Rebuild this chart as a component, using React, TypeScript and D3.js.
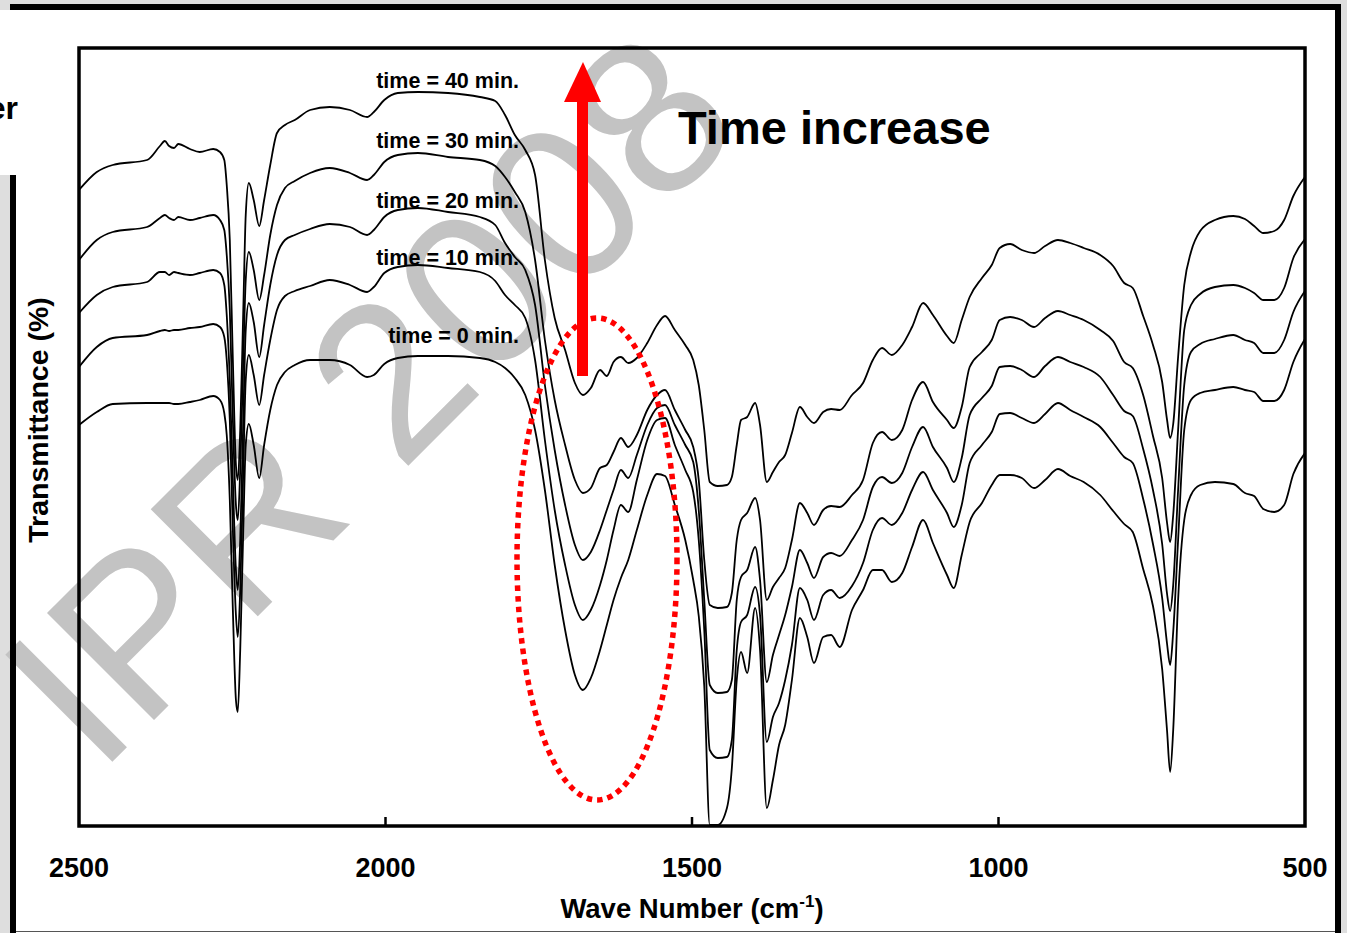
import React from 'react';
import * as d3 from 'd3';

// Wavenumber grid (cm-1), shared by all five spectra
const WAVENUMBER = [
  2500, 2471, 2445, 2389, 2368, 2360, 2353, 2345, 2338, 2319,
  2303, 2281, 2270, 2263, 2259, 2254, 2249, 2244, 2241, 2237,
  2232, 2228, 2223, 2215, 2206, 2198, 2188, 2177, 2164, 2148,
  2123, 2091, 2058, 2030, 2019, 2002, 1980, 1947, 1898, 1846,
  1821, 1805, 1789, 1772, 1756, 1740, 1724, 1707, 1691, 1678,
  1665, 1650, 1639, 1628, 1616, 1604, 1590, 1573, 1557, 1544,
  1528, 1511, 1498, 1489, 1480, 1471, 1458, 1443, 1435, 1427,
  1420, 1410, 1397, 1389, 1378, 1368, 1358, 1348, 1337, 1324,
  1312, 1301, 1286, 1273, 1259, 1239, 1221, 1205, 1190, 1174,
  1157, 1141, 1123, 1107, 1084, 1073, 1060, 1047, 1027, 1011,
  998, 981, 962, 942, 924, 903, 883, 861, 834, 813,
  795, 781, 764, 748, 733, 725, 720, 715, 707, 697,
  686, 671, 647, 617, 598, 583, 568, 550, 534, 519,
  500,
];

// Transmittance (arbitrary offset scale, %)
const T40 = [
  63.6, 65.4, 66.1, 66.6, 68.0, 68.5, 68.0, 67.8, 68.2, 67.7,
  67.4, 67.7, 67.4, 66.6, 64.1, 58.6, 46.6, 36.1, 34.6, 39.6,
  51.6, 61.1, 64.3, 62.6, 60.0, 62.6, 66.1, 69.3, 70.1, 70.6,
  71.6, 71.9, 71.6, 70.9, 71.4, 72.6, 73.3, 73.4, 73.3, 72.9,
  72.5, 71.1, 69.1, 67.6, 65.1, 56.6, 50.8, 47.6, 44.3, 43.1,
  43.8, 45.6, 45.0, 46.4, 46.9, 46.3, 46.8, 48.3, 50.1, 51.0,
  49.6, 48.1, 46.6, 44.1, 39.6, 34.4, 34.0, 34.1, 34.9, 38.1,
  40.6, 40.9, 42.3, 40.1, 34.4, 35.4, 36.4, 37.1, 39.3, 41.9,
  40.9, 40.3, 41.4, 41.7, 41.6, 43.1, 44.3, 46.6, 47.8, 47.1,
  48.1, 49.9, 52.3, 51.1, 49.0, 48.3, 50.6, 52.9, 54.8, 56.1,
  57.8, 58.2, 57.6, 57.3, 58.0, 58.6, 58.3, 57.8, 57.1, 56.0,
  54.3, 53.8, 51.0, 48.1, 44.4, 40.6, 38.8, 40.2, 46.9, 54.1,
  57.4, 59.5, 60.6, 61.0, 60.7, 60.0, 59.3, 59.5, 60.6, 63.0,
  64.9,
];
const T30 = [
  56.6, 58.6, 59.4, 59.9, 60.8, 61.1, 60.8, 60.6, 60.9, 60.6,
  60.8, 61.1, 60.6, 59.6, 57.1, 51.6, 40.6, 32.1, 30.6, 35.6,
  46.6, 54.6, 57.4, 55.6, 52.6, 55.1, 59.1, 62.1, 63.8, 64.5,
  65.3, 65.8, 65.3, 64.6, 65.1, 66.4, 67.1, 67.3, 66.9, 66.6,
  66.0, 64.9, 63.4, 61.4, 56.6, 48.6, 42.6, 38.1, 34.6, 33.3,
  33.8, 35.8, 36.1, 37.4, 38.8, 37.9, 39.1, 41.6, 43.1, 43.6,
  41.6, 39.6, 37.9, 34.6, 26.6, 22.1, 21.8, 21.9, 23.3, 28.6,
  30.6, 31.3, 32.8, 30.6, 22.6, 23.9, 24.8, 25.8, 28.6, 32.3,
  31.3, 30.1, 31.6, 32.0, 31.9, 33.1, 34.6, 38.3, 39.4, 38.6,
  39.6, 42.6, 44.4, 42.4, 40.6, 39.8, 41.9, 45.9, 47.4, 48.6,
  50.6, 50.9, 50.6, 49.9, 50.8, 51.5, 51.1, 50.6, 49.6, 48.5,
  46.4, 45.8, 43.1, 39.0, 34.8, 30.3, 28.4, 31.1, 39.6, 49.6,
  52.1, 53.2, 53.9, 54.1, 53.8, 53.3, 52.6, 52.6, 53.8, 56.8,
  58.7,
];
const T20 = [
  51.3, 53.1, 53.9, 54.4, 55.4, 55.4, 55.1, 55.4, 55.3, 55.1,
  55.3, 55.6, 55.3, 54.1, 51.1, 44.6, 34.6, 25.6, 23.6, 28.6,
  40.6, 49.6, 52.3, 50.4, 46.9, 50.1, 54.1, 57.1, 58.6, 59.1,
  59.7, 60.2, 59.9, 59.1, 59.6, 60.9, 61.6, 61.8, 61.4, 60.9,
  60.1, 58.3, 56.9, 55.6, 52.1, 44.1, 37.6, 32.1, 28.1, 26.6,
  27.4, 29.6, 31.6, 33.6, 35.6, 34.8, 37.1, 40.1, 41.8, 42.1,
  40.1, 38.1, 36.4, 31.6, 22.6, 14.1, 13.3, 13.4, 14.6, 22.6,
  24.9, 25.6, 27.9, 24.6, 14.4, 17.1, 19.1, 21.1, 23.9, 27.6,
  26.3, 24.8, 26.9, 27.3, 27.0, 28.6, 30.6, 33.9, 34.9, 34.3,
  35.3, 37.9, 39.9, 37.9, 35.8, 34.4, 36.8, 41.1, 42.8, 44.0,
  45.9, 46.0, 45.6, 44.9, 46.0, 46.9, 46.4, 45.9, 44.9, 43.1,
  41.5, 41.0, 37.7, 33.6, 28.2, 23.2, 21.5, 24.1, 33.6, 44.1,
  47.4, 48.2, 48.7, 49.1, 48.6, 48.3, 47.3, 47.3, 48.6, 51.4,
  53.5,
];
const T10 = [
  45.9, 47.9, 48.8, 49.1, 49.5, 49.6, 49.5, 49.6, 49.6, 49.8,
  49.9, 50.2, 49.9, 48.9, 46.6, 40.6, 29.6, 21.1, 18.9, 23.6,
  35.6, 44.6, 47.1, 45.1, 42.1, 45.1, 48.6, 51.6, 53.0, 53.5,
  54.0, 54.6, 54.1, 53.4, 53.9, 55.3, 55.9, 56.1, 55.8, 55.4,
  54.5, 53.1, 52.1, 50.8, 46.6, 38.6, 31.6, 26.1, 22.1, 20.6,
  21.6, 24.1, 26.6, 29.6, 32.1, 31.4, 34.6, 38.6, 40.6, 40.8,
  38.1, 35.6, 33.4, 28.6, 19.6, 7.6, 6.8, 6.9, 8.6, 17.6,
  20.4, 21.1, 23.9, 21.1, 8.4, 10.9, 12.3, 14.6, 18.1, 23.8,
  22.6, 20.6, 23.1, 23.6, 22.8, 24.0, 26.3, 29.6, 30.8, 30.1,
  31.3, 33.6, 35.4, 33.6, 31.3, 29.9, 32.1, 36.3, 38.1, 39.4,
  41.2, 41.3, 40.8, 40.3, 41.2, 42.3, 41.6, 40.9, 39.9, 38.3,
  36.9, 36.3, 32.7, 28.2, 22.8, 18.2, 16.1, 19.4, 28.6, 39.6,
  42.6, 43.3, 43.6, 43.9, 43.6, 43.4, 42.5, 42.5, 43.6, 46.4,
  48.7,
];
const T0 = [
  40.1, 41.4, 42.2, 42.3, 42.3, 42.3, 42.3, 42.2, 42.2, 42.4,
  42.6, 43.0, 42.6, 41.3, 39.1, 32.6, 21.6, 12.6, 11.4, 17.6,
  29.6, 38.1, 40.2, 38.1, 34.8, 38.1, 41.6, 44.1, 45.4, 46.1,
  46.6, 46.6, 46.1, 44.9, 45.1, 46.2, 46.8, 47.0, 47.0, 46.8,
  46.4, 45.8, 44.8, 43.1, 39.6, 33.6, 26.1, 19.6, 15.1, 13.6,
  14.8, 17.6, 20.1, 22.6, 24.8, 26.6, 29.6, 33.1, 35.2, 35.0,
  32.1, 28.6, 24.6, 21.0, 14.0, 0.1, 0.1, 1.8, 5.8, 14.6,
  17.4, 15.3, 21.8, 17.6, 1.8, 4.6, 8.1, 10.1, 14.6, 20.8,
  18.9, 16.3, 18.9, 19.1, 17.9, 21.6, 23.6, 25.6, 25.6, 24.4,
  25.3, 27.9, 30.6, 28.3, 25.1, 23.8, 27.1, 30.4, 32.3, 34.1,
  35.1, 35.1, 34.8, 33.8, 34.6, 35.7, 35.0, 34.4, 33.1, 31.5,
  30.2, 29.4, 25.7, 22.0, 15.7, 9.5, 5.4, 9.6, 22.6, 30.6,
  33.1, 34.1, 34.4, 34.2, 33.3, 33.0, 31.7, 31.4, 32.1, 35.2,
  37.3,
];

const SERIES_LABELS = ['time = 40 min.', 'time = 30 min.', 'time = 20 min.', 'time = 10 min.', 'time = 0 min.'];
const SERIES_VALUES = [T40, T30, T20, T10, T0];
const X_TICKS = [2500, 2000, 1500, 1000, 500];

const W = 1347;
const H = 933;
const PL = 79, PR = 1305, PT = 48, PB = 826;
const FONT = "Arial, 'Liberation Sans', Helvetica, sans-serif";

export default function App() {
  const x = d3.scaleLinear().domain([2500, 500]).range([PL, PR]);
  const y = d3.scaleLinear().domain([0, 77.8]).range([PB, PT]);
  const line = d3
    .line<[number, number]>()
    .x((d) => x(d[0]))
    .y((d) => y(d[1]))
    .curve(d3.curveMonotoneX);

  const paths = SERIES_VALUES.map((vals) => {
    const n = Math.min(vals.length, WAVENUMBER.length);
    const pts: [number, number][] = [];
    for (let i = 0; i < n; i++) pts.push([WAVENUMBER[i], vals[i]]);
    return line(pts) || '';
  });

  const labelBaselines = [88, 148, 208, 265, 343];

  return (
    <svg
      width={W}
      height={H}
      style={{ position: 'absolute', left: 0, top: 0, display: 'block' }}
      fontFamily={FONT}
    >
      <defs>
        <clipPath id="plotclip">
          <rect x={PL} y={PT} width={PR - PL} height={PB - PT} />
        </clipPath>
      </defs>
      <rect x={0} y={0} width={W} height={H} fill="#dedede" />
      <rect x={13} y={7} width={1325} height={960} fill="#ffffff" />

      {/* watermark */}
      <text
        transform="translate(98,776) rotate(-45)"
        fontSize={220}
        fill="#c3c3c3"
        fontFamily={FONT}
      >
        IPR 2008
      </text>

      <rect x={13} y={7} width={1325} height={960} fill="none" stroke="#000" strokeWidth={6} />
      <line x1={16} x2={1335} y1={931.5} y2={931.5} stroke="#555" strokeWidth={1} />
      <rect x={0} y={10} width={16} height={165} fill="#ffffff" />
      <text x={18} y={119} textAnchor="end" fontSize={32} fontWeight="bold">
        er
      </text>

      {/* spectra */}
      <g clipPath="url(#plotclip)">
        {paths.map((p, i) => (
          <path key={i} d={p} fill="none" stroke="#000" strokeWidth={1.8} strokeLinejoin="round" />
        ))}
      </g>

      {/* plot frame */}
      <rect x={PL} y={PT} width={PR - PL} height={PB - PT} fill="none" stroke="#000" strokeWidth={3.5} />
      {X_TICKS.slice(1, -1).map((t) => (
        <line key={t} x1={x(t)} x2={x(t)} y1={PB} y2={PB - 9} stroke="#000" strokeWidth={2.5} />
      ))}
      {X_TICKS.map((t) => (
        <text key={t} x={x(t)} y={877} textAnchor="middle" fontSize={27} fontWeight="bold">
          {t}
        </text>
      ))}
      <text x={692} y={918} textAnchor="middle" fontSize={27.5} fontWeight="bold">
        Wave Number (cm
        <tspan dy={-11} fontSize={17}>-1</tspan>
        <tspan dy={11}>)</tspan>
      </text>
      <text
        transform="translate(48,420) rotate(-90)"
        textAnchor="middle"
        fontSize={28.5}
        fontWeight="bold"
      >
        Transmittance (%)
      </text>

      {/* series labels */}
      {SERIES_LABELS.map((s, i) => (
        <text key={s} x={519} y={labelBaselines[i]} textAnchor="end" fontSize={21.5} fontWeight="bold">
          {s}
        </text>
      ))}

      {/* annotation */}
      <ellipse
        cx={597}
        cy={559}
        rx={80}
        ry={241}
        fill="none"
        stroke="#ff0000"
        strokeWidth={5.5}
        strokeDasharray="5.5 5"
      />
      <rect x={577} y={100} width={11} height={276} fill="#ff0000" />
      <polygon points="564,102 601,102 583,62" fill="#ff0000" />
      <text x={678} y={144} fontSize={47} fontWeight="bold">
        Time increase
      </text>
    </svg>
  );
}
